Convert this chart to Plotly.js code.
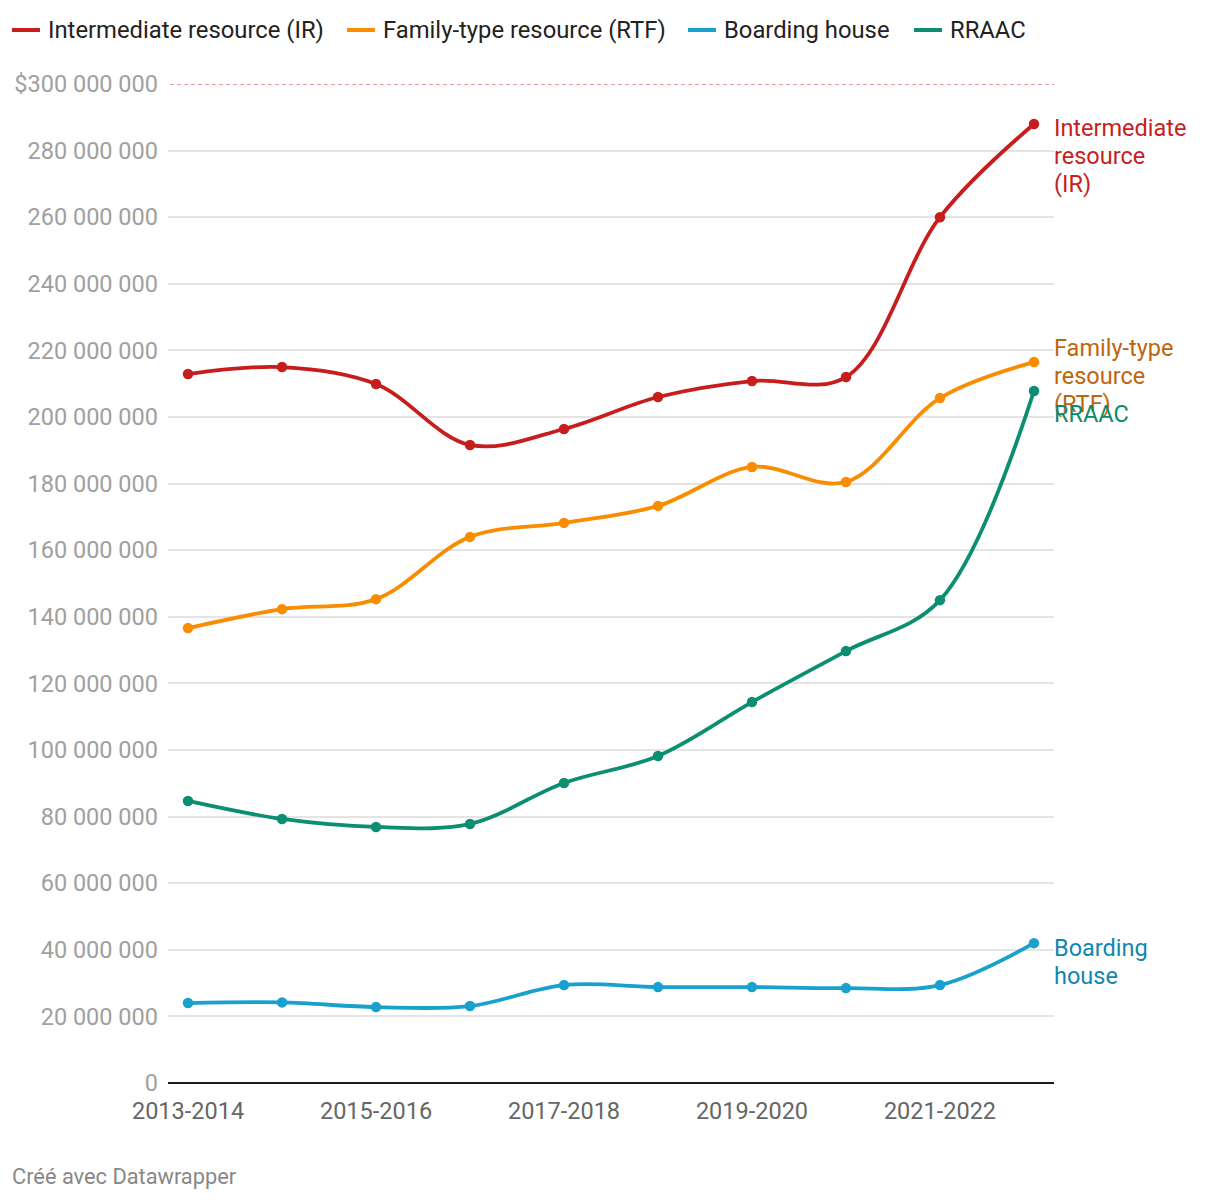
<!DOCTYPE html>
<html>
<head>
<meta charset="utf-8">
<script src="https://cdn.plot.ly/plotly-3.0.1.min.js"></script>
<style>
  html, body { margin: 0; padding: 0; background: #ffffff; }
  #chart { width: 1220px; height: 1200px; }
</style>
</head>
<body>
<div id="chart"></div>
<script>
// ---- Data ----
const years = ["2013-2014","2014-2015","2015-2016","2016-2017","2017-2018","2018-2019","2019-2020","2020-2021","2021-2022","2022-2023"];
const xTickVals = ["2013-2014","2015-2016","2017-2018","2019-2020","2021-2022"];
const irValues = [212.9e6, 215.0e6, 209.9e6, 191.6e6, 196.4e6, 206.0e6, 210.8e6, 212.0e6, 260.0e6, 288.0e6];
const rtfValues = [136.6e6, 142.3e6, 145.3e6, 164.0e6, 168.2e6, 173.3e6, 185.0e6, 180.5e6, 205.7e6, 216.5e6];
const boardingValues = [24.0e6, 24.2e6, 22.8e6, 23.1e6, 29.4e6, 28.8e6, 28.8e6, 28.5e6, 29.4e6, 42.0e6];
const rraacValues = [84.7e6, 79.3e6, 76.9e6, 77.8e6, 90.1e6, 98.2e6, 114.4e6, 129.7e6, 145.0e6, 207.8e6];
const yTickVals = [0, 20e6, 40e6, 60e6, 80e6, 100e6, 120e6, 140e6, 160e6, 180e6, 200e6, 220e6, 240e6, 260e6, 280e6, 300e6];
const yTickText = ["0","20 000 000","40 000 000","60 000 000","80 000 000","100 000 000","120 000 000","140 000 000","160 000 000","180 000 000","200 000 000","220 000 000","240 000 000","260 000 000","280 000 000","$300 000 000"];
const seriesNames = ["Intermediate resource (IR)", "Family-type resource (RTF)", "Boarding house", "RRAAC"];
const directLabels = [["Intermediate","resource","(IR)"], ["Family-type","resource","(RTF)"], ["Boarding","house"], ["RRAAC"]];
const footerText = "Créé avec Datawrapper";

// ---- Styles ----
const lineColors = ["#c71e1d", "#fa8c00", "#18a1cd", "#0b8e71"];
const labelColors = ["#c71e1d", "#c0650c", "#1186b0", "#0b8a6d"];
const seriesValues = [irValues, rtfValues, boardingValues, rraacValues];
// per-line vertical offsets (px, relative to last point) of the direct labels
const labelShifts = [[-4, -32, -60], [14, -14, -42], [-5, -33], [-23]];
const FONT = "Roboto, 'Noto Sans', sans-serif";

// plot area in pixels
const L = 168, R = 1054, T = 84, B = 1083;
const px2x = p => (p - L) / (R - L);
const px2y = p => (B - p) / (B - T);

const traces = seriesValues.map((vals, i) => ({
  type: "scatter",
  mode: "lines+markers",
  x: years,
  y: vals,
  name: seriesNames[i],
  showlegend: false,
  line: { color: lineColors[i], width: 3.8, shape: "spline", smoothing: 1 },
  marker: { color: lineColors[i], size: 10.5 },
  cliponaxis: false,
  hoverinfo: "x+y+name"
}));

const annotations = [];
const shapes = [];

// Direct labels at the last point of each series
seriesValues.forEach((vals, i) => {
  directLabels[i].forEach((t, j) => {
    annotations.push({
      x: years[years.length - 1], y: vals[vals.length - 1], xref: "x", yref: "y",
      text: t, showarrow: false, xanchor: "left", yanchor: "middle",
      xshift: 18, yshift: labelShifts[i][j],
      font: { family: FONT, size: 23.5, color: labelColors[i] }
    });
  });
});

// Manual legend at the top
const legendIconStarts = [12, 347, 688, 914];
seriesNames.forEach((n, i) => {
  const s = legendIconStarts[i];
  shapes.push({
    type: "line", xref: "paper", yref: "paper",
    x0: px2x(s), x1: px2x(s + 28), y0: px2y(30), y1: px2y(30),
    line: { color: lineColors[i], width: 4 }, layer: "above"
  });
  annotations.push({
    xref: "paper", yref: "paper", x: px2x(s + 34), y: px2y(30),
    text: n, showarrow: false, xanchor: "left", yanchor: "middle",
    font: { family: FONT, size: 23.8, color: "#222222" }
  });
});

// Dashed reference line at the top value
shapes.push({
  type: "line", xref: "paper", yref: "y",
  x0: px2x(170), x1: 1, y0: 300e6, y1: 300e6,
  line: { color: "#e07f7f", width: 1.6, dash: "4px,3px" }, layer: "above"
});

// Footer
annotations.push({
  xref: "paper", yref: "paper", x: px2x(10), y: px2y(1176),
  text: footerText, showarrow: false, xanchor: "left", yanchor: "middle",
  font: { family: FONT, size: 21.8, color: "#888888" }
});

const layout = {
  width: 1220, height: 1200,
  margin: { l: L, r: 1220 - R, t: T, b: 1200 - B, pad: 0 },
  paper_bgcolor: "#ffffff", plot_bgcolor: "#ffffff",
  font: { family: FONT, size: 23, color: "#333333" },
  showlegend: false,
  xaxis: {
    type: "category",
    range: [-0.213, 9.213],
    tickmode: "array", tickvals: xTickVals, ticktext: xTickVals,
    showgrid: false, zeroline: false, showline: false,
    ticks: "", ticklabelstandoff: 11,
    tickfont: { family: FONT, size: 23.5, color: "#666666" },
    fixedrange: true
  },
  yaxis: {
    range: [0, 300e6],
    tickmode: "array", tickvals: yTickVals, ticktext: yTickText,
    showgrid: true, gridcolor: "#e4e4e4", gridwidth: 2,
    zeroline: true, zerolinecolor: "#1a1a1a", zerolinewidth: 2,
    showline: false, ticks: "", ticklabelstandoff: 9,
    tickfont: { family: FONT, size: 23.5, color: "#a0a0a0" },
    fixedrange: true
  },
  shapes: shapes,
  annotations: annotations,
  hovermode: "closest"
};

Plotly.newPlot("chart", traces, layout, { displayModeBar: false, responsive: false });
</script>
</body>
</html>
